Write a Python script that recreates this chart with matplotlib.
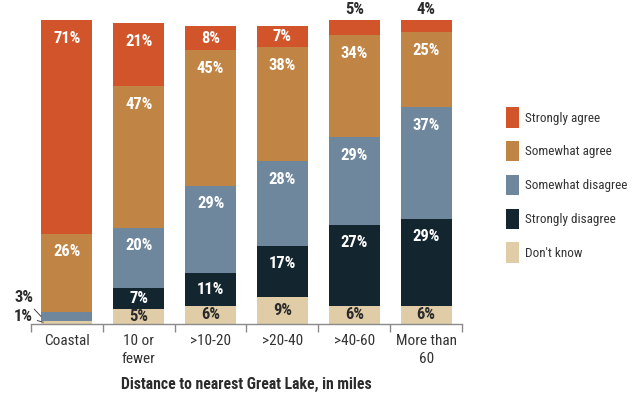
import numpy as np
import matplotlib
matplotlib.use("Agg")
import matplotlib.pyplot as plt
from matplotlib import font_manager

# pick a narrow font if there is one
available = set(f.name for f in font_manager.fontManager.ttflist)
font_choice = "DejaVu Sans"
narrow = False
for cand in ["Liberation Sans Narrow", "Arial Narrow", "Roboto Condensed",
             "DejaVu Sans Condensed", "Open Sans Condensed", "Liberation Sans"]:
    if cand in available:
        font_choice = cand
        narrow = cand != "Liberation Sans"
        break
plt.rcParams['font.family'] = [font_choice, 'DejaVu Sans']
fs = 11 if narrow else 9.5      # tick labels / axis label
vfs = 12 if narrow else 10      # value labels

####### DATA #######

categories = ["Coastal", "10 or\nfewer", ">10-20", ">20-40", ">40-60", "More than\n60"]
dont_know = [1, 5, 6, 9, 6, 6]
strongly_disagree = [0, 7, 11, 17, 27, 29]
somewhat_disagree = [3, 20, 29, 28, 29, 37]
somewhat_agree = [26, 47, 45, 38, 34, 25]
strongly_agree = [71, 21, 8, 7, 5, 4]

series_names = ["Don't know", "Strongly disagree", "Somewhat disagree",
                "Somewhat agree", "Strongly agree"]
series = [dont_know, strongly_disagree, somewhat_disagree, somewhat_agree, strongly_agree]
colors = ["#E0CDA8", "#13252F", "#6E879D", "#C08444", "#D2542B"]
text_colors = ["#2b2b2b", "white", "white", "white", "white"]

####### PLOT #######

fig = plt.figure(figsize=(6.41, 3.94), dpi=100)
ax = fig.add_axes([31 / 641, 1 - 324 / 394, (462 - 31) / 641, (324 - 20) / 394])

x = np.arange(len(categories))
bottom = np.zeros(len(categories))
handles = []
for name, vals, col, tcol in zip(series_names, series, colors, text_colors):
    vals = np.array(vals, dtype=float)
    h = ax.bar(x, vals, bottom=bottom, width=0.71, color=col, label=name)
    handles.append(h)
    for i in range(len(x)):
        v = vals[i]
        top = bottom[i] + v
        if v == 0:
            continue
        if v <= 5 and name == "Strongly agree":
            # small top segment -> label above the bar
            ax.text(x[i], top + 1.0, f"{int(v)}%", ha="center", va="bottom",
                    color="#2b2b2b", fontsize=vfs, fontweight="bold", clip_on=False)
        elif i == 0 and v <= 3:
            pass
        else:
            y = top - min(v / 2, 6)
            ax.text(x[i], y, f"{int(v)}%", ha="center", va="center",
                    color=tcol, fontsize=vfs, fontweight="bold")
    bottom += vals

# coastal small labels with leader lines
ax.annotate("3%", xy=(-0.36, dont_know[0] + 1.5), xytext=(-0.47, 8.7),
            ha="right", va="center", fontsize=vfs, fontweight="bold", color="#2b2b2b",
            annotation_clip=False,
            arrowprops=dict(arrowstyle="-", color="#444444", lw=0.7, shrinkA=1, shrinkB=0))
ax.annotate("1%", xy=(-0.33, 0.6), xytext=(-0.47, 2.4),
            ha="right", va="center", fontsize=vfs, fontweight="bold", color="#2b2b2b",
            annotation_clip=False,
            arrowprops=dict(arrowstyle="-", color="#444444", lw=0.7, shrinkA=1, shrinkB=0))

ax.set_xlim(-0.5, len(categories) - 0.5)
ax.set_ylim(0, 101)
ax.set_yticks([])
for s in ["top", "right", "left"]:
    ax.spines[s].set_visible(False)
ax.spines["bottom"].set_color("#8a8a8a")
ax.spines["bottom"].set_linewidth(1.0)

ax.set_xticks(x)
ax.set_xticklabels(categories, fontsize=fs, color="#333333", linespacing=1.4)
ax.tick_params(axis="x", which="major", length=0, pad=7)
ax.set_xticks(np.arange(-0.5, len(categories)), minor=True)
ax.tick_params(axis="x", which="minor", length=6, color="#8a8a8a", width=1.0)

ax.set_xlabel("Distance to nearest Great Lake, in miles", fontsize=fs + 0.3,
              fontweight="bold", color="#2b2b2b", labelpad=8)

leg = ax.legend(handles[::-1], series_names[::-1], loc="center left",
                bbox_to_anchor=(506 / 641, 1 - 185 / 394), bbox_transform=fig.transFigure,
                frameon=False, fontsize=9.5 if narrow else 8.5, handlelength=0.95,
                handleheight=2.0, labelspacing=1.02, handletextpad=0.5,
                borderpad=0, borderaxespad=0)
for t in leg.get_texts():
    t.set_color("#333333")

fig.savefig("out.png", dpi=100)
